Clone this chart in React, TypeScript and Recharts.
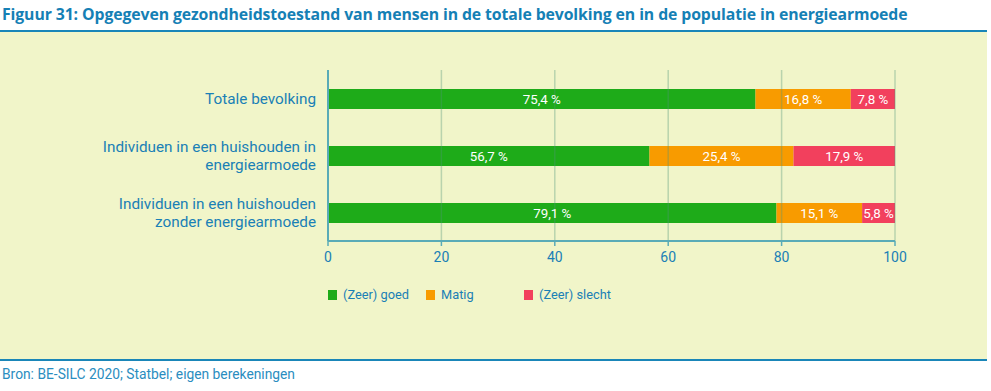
import React from 'react'
import { BarChart, Bar, XAxis, YAxis, CartesianGrid, LabelList, ReferenceLine } from 'recharts'

const categories = [
  'Totale bevolking',
  'Individuen in een huishouden in|energiearmoede',
  'Individuen in een huishouden|zonder energiearmoede',
]
const goed = [75.4, 56.7, 79.1]
const matig = [16.8, 25.4, 15.1]
const slecht = [7.8, 17.9, 5.8]
const xTicks = [0, 20, 40, 60, 80, 100]

const series = [
  { key: 'goed', name: '(Zeer) goed', color: '#1eab19' },
  { key: 'matig', name: 'Matig', color: '#f89b00' },
  { key: 'slecht', name: '(Zeer) slecht', color: '#f2405d' },
]

const data = categories.map((c, i) => ({
  name: c,
  goed: goed[i],
  matig: matig[i],
  slecht: slecht[i],
}))

const blue = '#1a80b6'
const axisColor = '#5aabb7'
const font = 'Roboto, "Open Sans", sans-serif'

const fmt = (v: any) => String(v).replace('.', ',') + ' %'

function CategoryTick({ x, y, payload }: any) {
  const lines = String(payload.value).split('|')
  const startDy = -((lines.length - 1) * 18) / 2
  return (
    <text x={x - 4} y={y} textAnchor="end" fill={blue} fontSize={15.3} fontFamily={font}>
      {lines.map((l, i) => (
        <tspan key={i} x={x - 4} dy={i === 0 ? startDy + 5 : 18}>
          {l}
        </tspan>
      ))}
    </text>
  )
}

function SegLabel({ x, y, width, height, value }: any) {
  return (
    <text
      x={x + width / 2}
      y={y + height / 2}
      dy={4.5}
      textAnchor="middle"
      fill="#fff"
      fontSize={13.3}
      fontFamily={font}
    >
      {fmt(value)}
    </text>
  )
}

export default function App() {
  return (
    <div style={{ position: 'fixed', left: 0, top: 0, width: 991, height: 391, background: '#fff', fontFamily: font }}>
      <div style={{ position: 'absolute', left: 2, top: 3, whiteSpace: 'nowrap', fontFamily: '"Open Sans", sans-serif', fontWeight: 700, fontSize: 15.8, color: '#1580b5', letterSpacing: -0.1 }}>
        Figuur 31: Opgegeven gezondheidstoestand van mensen in de totale bevolking en in de populatie in energiearmoede
      </div>
      <div style={{ position: 'absolute', left: 0, top: 30, width: 987, height: 331, background: '#f1f5c9', borderTop: '2px solid #1a86b8', borderBottom: '2px solid #1a86b8', boxSizing: 'border-box' }} />
      <div style={{ position: 'absolute', left: 2, top: 366, fontSize: 13.8, color: '#2a8dc0' }}>
        Bron: BE-SILC 2020; Statbel; eigen berekeningen
      </div>
      <div style={{ position: 'absolute', left: 0, top: 0 }}>
        <BarChart
          width={991}
          height={271}
          data={data}
          layout="vertical"
          margin={{ top: 70, right: 96, bottom: 0, left: 0 }}
          barSize={20}
        >
          <CartesianGrid horizontal={false} vertical={false} />
          <XAxis
            type="number"
            domain={[0, 100]}
            ticks={xTicks}
            height={30}
            tick={{ fill: blue, fontSize: 14, fontFamily: font }}
            axisLine={{ stroke: axisColor, strokeWidth: 2 }}
            tickLine={{ stroke: axisColor, strokeWidth: 1.5 }}
            tickSize={5}
            tickMargin={6}
          />
          <YAxis
            type="category"
            dataKey="name"
            width={328}
            tick={<CategoryTick />}
            axisLine={{ stroke: axisColor, strokeWidth: 2 }}
            tickLine={false}
          />
          {series.map((s) => (
            <Bar key={s.key} dataKey={s.key} name={s.name} stackId="a" fill={s.color} isAnimationActive={false}>
              <LabelList dataKey={s.key} content={<SegLabel />} />
            </Bar>
          ))}
          {xTicks.slice(1).map((t) => (
            <ReferenceLine key={t} x={t} stroke="rgba(80,150,120,0.35)" strokeWidth={1.5} />
          ))}
        </BarChart>
      </div>
      <div style={{ position: 'absolute', left: 328, top: 287, display: 'flex', fontSize: 12.8, color: blue }}>
        {series.map((s) => (
          <div key={s.key} style={{ width: 98, display: 'flex', alignItems: 'center' }}>
            <span style={{ width: 9, height: 10, background: s.color, marginRight: 6, display: 'inline-block' }} />
            {s.name}
          </div>
        ))}
      </div>
    </div>
  )
}
